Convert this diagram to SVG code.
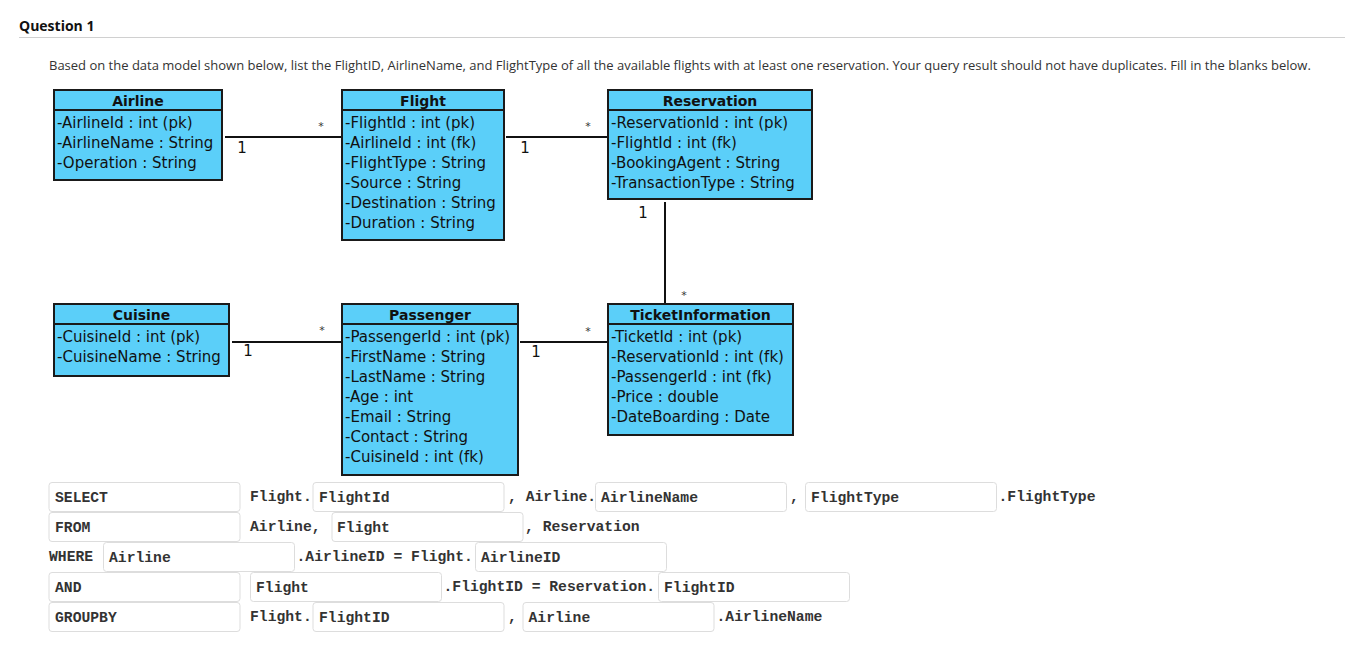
<svg xmlns="http://www.w3.org/2000/svg" width="1345" height="670" viewBox="0 0 1345 670">
<style>
.bg{fill:#ffffff}
.hdr{font-family:"Open Sans","Liberation Sans",sans-serif;font-weight:bold;font-size:14px;fill:#111}
.intro{font-family:"Open Sans","Liberation Sans",sans-serif;font-size:13px;fill:#333}
.box{fill:#5bcff9;stroke:#1a1a1a;stroke-width:2}
.sep{stroke:#1a1a1a;stroke-width:2}
.title{font-family:"DejaVu Sans","Liberation Sans",sans-serif;font-weight:bold;font-size:14px;fill:#111;text-anchor:middle}
.attr{font-family:"DejaVu Sans","Liberation Sans",sans-serif;font-size:15px;fill:#111}
.conn{stroke:#111;stroke-width:2;fill:none}
.mult{font-family:"DejaVu Sans","Liberation Sans",sans-serif;font-size:15px;fill:#111;text-anchor:middle}
.star{font-family:"DejaVu Sans","Liberation Sans",sans-serif;font-size:11px;fill:#333;text-anchor:middle}
.blank{fill:#ffffff;stroke:#dddddd;stroke-width:1}
.sql{font-family:"Liberation Mono","Courier New",monospace;font-weight:bold;font-size:14.7px;fill:#333;white-space:pre}
</style>
<rect class="bg" x="0" y="0" width="1345" height="670"/>
<g id="header">
<text class="hdr" x="19" y="31">Question 1</text>
<line x1="19" y1="37.5" x2="1345" y2="37.5" stroke="#d0d0d0" stroke-width="1"/>
<text class="intro" x="49" y="70">Based on the data model shown below, list the FlightID, AirlineName, and FlightType of all the available flights with at least one reservation. Your query result should not have duplicates. Fill in the blanks below.</text>
</g>
<g id="connectors">
<line class="conn" x1="225" y1="137" x2="342" y2="137"/>
<line class="conn" x1="506" y1="137" x2="608" y2="137"/>
<line class="conn" x1="665" y1="202" x2="665" y2="304"/>
<line class="conn" x1="232" y1="342" x2="342" y2="342"/>
<line class="conn" x1="520" y1="342" x2="608" y2="342"/>
<text class="mult" x="242" y="153">1</text>
<text class="star" x="321" y="129.5">*</text>
<text class="mult" x="525" y="153">1</text>
<text class="star" x="588" y="129.5">*</text>
<text class="mult" x="643" y="218">1</text>
<text class="star" x="684" y="298.5">*</text>
<text class="mult" x="248" y="356">1</text>
<text class="star" x="322" y="333.5">*</text>
<text class="mult" x="536" y="357">1</text>
<text class="star" x="588" y="334.5">*</text>
</g>
<g id="Airline">
<rect class="box" x="54" y="90" width="168" height="90"/>
<line class="sep" x1="54" y1="110" x2="222" y2="110"/>
<text class="title" x="138" y="106">Airline</text>
<text class="attr" x="57" y="128">-AirlineId : int (pk)</text>
<text class="attr" x="57" y="148">-AirlineName : String</text>
<text class="attr" x="57" y="168">-Operation : String</text>
</g>
<g id="Flight">
<rect class="box" x="342" y="90" width="162" height="150"/>
<line class="sep" x1="342" y1="110" x2="504" y2="110"/>
<text class="title" x="423" y="106">Flight</text>
<text class="attr" x="345" y="128">-FlightId : int (pk)</text>
<text class="attr" x="345" y="148">-AirlineId : int (fk)</text>
<text class="attr" x="345" y="168">-FlightType : String</text>
<text class="attr" x="345" y="188">-Source : String</text>
<text class="attr" x="345" y="208">-Destination : String</text>
<text class="attr" x="345" y="228">-Duration : String</text>
</g>
<g id="Reservation">
<rect class="box" x="608" y="90" width="204" height="109"/>
<line class="sep" x1="608" y1="110" x2="812" y2="110"/>
<text class="title" x="710" y="106">Reservation</text>
<text class="attr" x="611" y="128">-ReservationId : int (pk)</text>
<text class="attr" x="611" y="148">-FlightId : int (fk)</text>
<text class="attr" x="611" y="168">-BookingAgent : String</text>
<text class="attr" x="611" y="188">-TransactionType : String</text>
</g>
<g id="Cuisine">
<rect class="box" x="54" y="304" width="175" height="72"/>
<line class="sep" x1="54" y1="324" x2="229" y2="324"/>
<text class="title" x="141.5" y="320">Cuisine</text>
<text class="attr" x="57" y="342">-CuisineId : int (pk)</text>
<text class="attr" x="57" y="362">-CuisineName : String</text>
</g>
<g id="Passenger">
<rect class="box" x="342" y="304" width="176" height="171"/>
<line class="sep" x1="342" y1="324" x2="518" y2="324"/>
<text class="title" x="430" y="320">Passenger</text>
<text class="attr" x="345" y="342">-PassengerId : int (pk)</text>
<text class="attr" x="345" y="362">-FirstName : String</text>
<text class="attr" x="345" y="382">-LastName : String</text>
<text class="attr" x="345" y="402">-Age : int</text>
<text class="attr" x="345" y="422">-Email : String</text>
<text class="attr" x="345" y="442">-Contact : String</text>
<text class="attr" x="345" y="462">-CuisineId : int (fk)</text>
</g>
<g id="TicketInformation">
<rect class="box" x="608" y="304" width="185" height="131"/>
<line class="sep" x1="608" y1="324" x2="793" y2="324"/>
<text class="title" x="700.5" y="320">TicketInformation</text>
<text class="attr" x="611" y="342">-TicketId : int (pk)</text>
<text class="attr" x="611" y="362">-ReservationId : int (fk)</text>
<text class="attr" x="611" y="382">-PassengerId : int (fk)</text>
<text class="attr" x="611" y="402">-Price : double</text>
<text class="attr" x="611" y="422">-DateBoarding : Date</text>
</g>
<g id="sql-select">
<rect class="blank" x="49" y="482.5" width="191" height="29" rx="3"/>
<text class="sql" x="55" y="502">SELECT</text>
<text class="sql" x="250" y="500.5">Flight.</text>
<rect class="blank" x="313" y="482.5" width="191" height="29" rx="3"/>
<text class="sql" x="319" y="502">FlightId</text>
<text class="sql" x="508" y="500.5">, Airline.</text>
<rect class="blank" x="595.5" y="482.5" width="191" height="29" rx="3"/>
<text class="sql" x="601" y="502">AirlineName</text>
<text class="sql" x="790" y="500.5">,</text>
<rect class="blank" x="805.5" y="482.5" width="191" height="29" rx="3"/>
<text class="sql" x="811" y="502">FlightType</text>
<text class="sql" x="998.5" y="500.5">.FlightType</text>
</g>
<g id="sql-from">
<rect class="blank" x="49" y="512.5" width="191" height="29" rx="3"/>
<text class="sql" x="55" y="532">FROM</text>
<text class="sql" x="250" y="530.5">Airline,</text>
<rect class="blank" x="332" y="512.5" width="191" height="29" rx="3"/>
<text class="sql" x="337" y="532">Flight</text>
<text class="sql" x="525" y="530.5">, Reservation</text>
</g>
<g id="sql-where">
<text class="sql" x="49" y="560.5">WHERE</text>
<rect class="blank" x="103.5" y="542.5" width="191" height="29" rx="3"/>
<text class="sql" x="109" y="562">Airline</text>
<text class="sql" x="296.5" y="560.5">.AirlineID = Flight.</text>
<rect class="blank" x="475.5" y="542.5" width="191" height="29" rx="3"/>
<text class="sql" x="481" y="562">AirlineID</text>
</g>
<g id="sql-and">
<rect class="blank" x="49" y="572.5" width="191" height="29" rx="3"/>
<text class="sql" x="55" y="592">AND</text>
<rect class="blank" x="250.5" y="572.5" width="191" height="29" rx="3"/>
<text class="sql" x="256" y="592">Flight</text>
<text class="sql" x="443.5" y="590.5">.FlightID = Reservation.</text>
<rect class="blank" x="658.5" y="572.5" width="191" height="29" rx="3"/>
<text class="sql" x="664" y="592">FlightID</text>
</g>
<g id="sql-groupby">
<rect class="blank" x="49" y="602.5" width="191" height="29" rx="3"/>
<text class="sql" x="55" y="622">GROUPBY</text>
<text class="sql" x="250" y="620.5">Flight.</text>
<rect class="blank" x="313" y="602.5" width="191" height="29" rx="3"/>
<text class="sql" x="319" y="622">FlightID</text>
<text class="sql" x="508" y="620.5">,</text>
<rect class="blank" x="523" y="602.5" width="191" height="29" rx="3"/>
<text class="sql" x="528.5" y="622">Airline</text>
<text class="sql" x="716.5" y="620.5">.AirlineName</text>
</g>
</svg>
